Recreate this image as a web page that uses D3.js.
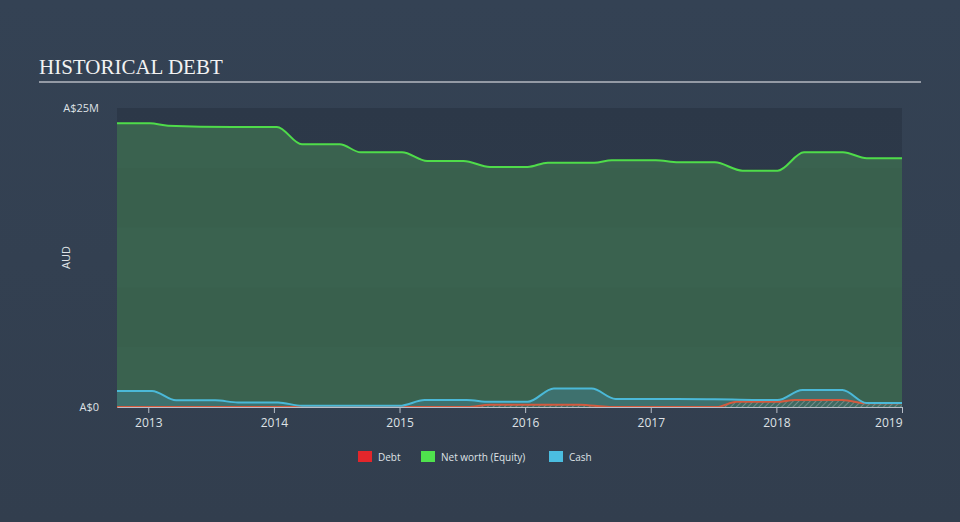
<!DOCTYPE html>
<html>
<head>
<meta charset="utf-8">
<script src="https://cdn.jsdelivr.net/npm/d3@7"></script>
<style>
  html, body { margin: 0; padding: 0; background: #333f50; }
  svg { display: block; }
</style>
</head>
<body>
<svg id="chart" width="960" height="522"></svg>
<script>
// ---- Data (decimal years, values in A$ millions) ----
const netWorthYears = [2012.751, 2013.014, 2013.157, 2013.674, 2014.024, 2014.223, 2014.525, 2014.69, 2015.02, 2015.22, 2015.51, 2015.72, 2016.02, 2016.18, 2016.55, 2016.69, 2017.04, 2017.22, 2017.51, 2017.73, 2018.01, 2018.22, 2018.53, 2018.72, 2019.0];
const netWorthValues = [23.72, 23.72, 23.52, 23.42, 23.42, 21.97, 21.97, 21.3, 21.3, 20.57, 20.57, 20.07, 20.07, 20.43, 20.43, 20.63, 20.63, 20.46, 20.46, 19.76, 19.76, 21.3, 21.3, 20.8, 20.8];

const cashYears = [2012.751, 2013.03, 2013.221, 2013.532, 2013.714, 2014.033, 2014.223, 2015.0, 2015.2, 2015.535, 2015.718, 2016.02, 2016.228, 2016.53, 2016.72, 2017.03, 2017.51, 2018.009, 2018.207, 2018.526, 2018.717, 2019.0];
const cashValues = [1.34, 1.34, 0.56, 0.56, 0.38, 0.38, 0.1, 0.1, 0.58, 0.58, 0.43, 0.43, 1.55, 1.55, 0.67, 0.67, 0.64, 0.58, 1.42, 1.42, 0.33, 0.33];

const debtYears = [2012.751, 2015.54, 2015.718, 2016.435, 2016.673, 2017.524, 2017.683, 2018.009, 2018.144, 2018.526, 2018.717, 2019.0];
const debtValues = [0, 0, 0.19, 0.19, 0, 0, 0.44, 0.44, 0.58, 0.58, 0.31, 0.31];

const xTickYears = [2013, 2014, 2015, 2016, 2017, 2018, 2019];
const yTickValues = [0, 25];
const yTickLabels = ["A$0", "A$25M"];

const legendNames = ["Debt", "Net worth (Equity)", "Cash"];
const legendColors = ["#e3262b", "#4fe24d", "#4bbde0"];

// ---- Layout ----
const svg = d3.select("#chart");
const W = 960, H = 522;
const plot = { left: 117, right: 902, top: 108, bottom: 407 };

const x = d3.scaleLinear().domain([2012.751, 2019.0]).range([plot.left, plot.right]);
const y = d3.scaleLinear().domain([0, 25]).range([plot.bottom, plot.top]);

// background gradient
const defs = svg.append("defs");
const bg = defs.append("linearGradient").attr("id", "bg").attr("x1", 0).attr("y1", 0).attr("x2", 0).attr("y2", 1);
bg.append("stop").attr("offset", "0%").attr("stop-color", "#344254");
bg.append("stop").attr("offset", "100%").attr("stop-color", "#323e4e");
svg.append("rect").attr("width", W).attr("height", H).attr("fill", "url(#bg)");

const pbg = defs.append("linearGradient").attr("id", "pbg").attr("x1", 0).attr("y1", 0).attr("x2", 0).attr("y2", 1);
pbg.append("stop").attr("offset", "0%").attr("stop-color", "#2c3848");
pbg.append("stop").attr("offset", "100%").attr("stop-color", "#2f3b4c");
svg.append("rect")
  .attr("x", plot.left).attr("y", plot.top)
  .attr("width", plot.right - plot.left).attr("height", plot.bottom - plot.top)
  .attr("fill", "url(#pbg)");

// hatch pattern for debt
const pat = defs.append("pattern").attr("id", "hatch")
  .attr("patternUnits", "userSpaceOnUse").attr("width", 4).attr("height", 4)
  .attr("patternTransform", "rotate(45)");
pat.append("rect").attr("width", 4).attr("height", 4).attr("fill", "#3f6a62");
pat.append("line").attr("x1", 0).attr("y1", 0).attr("x2", 0).attr("y2", 4)
  .attr("stroke", "#8a9a98").attr("stroke-width", 1.4);

// Title
svg.append("text")
  .attr("x", 39).attr("y", 74)
  .attr("font-family", "'Liberation Serif', 'DejaVu Serif', serif")
  .attr("font-size", 21)
  .attr("fill", "#f2f2f2")
  .text("HISTORICAL DEBT");
svg.append("line")
  .attr("x1", 39).attr("x2", 921).attr("y1", 82).attr("y2", 82)
  .attr("stroke", "#b4b9c0").attr("stroke-width", 1.5);

// Series helpers
const curve = d3.curveMonotoneX;
function series(years, vals) { return years.map((yr, i) => ({ x: yr, v: vals[i] })); }
const nw = series(netWorthYears, netWorthValues);
const cash = series(cashYears, cashValues);
const debt = series(debtYears, debtValues);

const area = d3.area().x(d => x(d.x)).y0(y(0)).y1(d => y(d.v)).curve(curve);
const line = d3.line().x(d => x(d.x)).y(d => y(d.v)).curve(curve);

// Net worth
svg.append("path").datum(nw).attr("d", area).attr("fill", "#3a624f");
// faint horizontal bands in plot
const bandG = svg.append("g");
[0, 1, 2, 3, 4].forEach(i => {
  const top = y(25 * (i + 1) / 5), bot = y(25 * i / 5);
  if (i % 2 === 1) {
    bandG.append("rect").attr("x", plot.left).attr("width", plot.right - plot.left)
      .attr("y", top).attr("height", bot - top).attr("fill", "#000").attr("opacity", 0.015);
  }
});

// Cash
svg.append("path").datum(cash).attr("d", area).attr("fill", "#3e7270").attr("opacity", 0.95);
// Debt
svg.append("path").datum(debt).attr("d", area).attr("fill", "url(#hatch)");

svg.append("path").datum(debt).attr("d", line).attr("fill", "none")
  .attr("stroke", "#d35a3e").attr("stroke-width", 2);
svg.append("path").datum(cash).attr("d", line).attr("fill", "none")
  .attr("stroke", "#4bb9d8").attr("stroke-width", 2);
svg.append("path").datum(nw).attr("d", line).attr("fill", "none")
  .attr("stroke", "#4fdc4a").attr("stroke-width", 2);

// X axis
const xAxis = d3.axisBottom(x).tickValues(xTickYears).tickFormat(d3.format("d")).tickSize(6).tickSizeOuter(0);
const gx = svg.append("g").attr("transform", `translate(0,${plot.bottom})`).call(xAxis);
gx.select(".domain").attr("stroke", "#b8bec7").attr("stroke-width", 1.2);
gx.selectAll(".tick line").attr("stroke", "#b8bec7");
gx.selectAll(".tick text")
  .attr("fill", "#dfe2e6").attr("font-size", 12)
  .attr("font-family", "'Open Sans', 'DejaVu Sans', sans-serif")
  .attr("dy", "0.95em")
  .attr("text-anchor", (d, i) => i === xTickYears.length - 1 ? "end" : "middle");

// Y labels
const yAxis = d3.axisLeft(y).tickValues(yTickValues).tickFormat((d, i) => yTickLabels[i]).tickSize(0);
const gy = svg.append("g").attr("transform", `translate(${plot.left - 15},0)`).call(yAxis);
gy.select(".domain").remove();
gy.selectAll(".tick text")
  .attr("fill", "#dfe2e6").attr("font-size", 11)
  .attr("font-family", "'Open Sans', 'DejaVu Sans', sans-serif")
  .attr("dy", "0.3em");

svg.append("text")
  .attr("transform", `translate(70,${(plot.top + plot.bottom) / 2}) rotate(-90)`)
  .attr("text-anchor", "middle")
  .attr("fill", "#dfe2e6").attr("font-size", 11)
  .attr("font-family", "'Open Sans', 'DejaVu Sans', sans-serif")
  .text("AUD");

// Legend
const legendX = [358, 421, 549];
const lg = svg.append("g").attr("font-family", "'Open Sans', 'DejaVu Sans', sans-serif").attr("font-size", 10);
legendNames.forEach((n, i) => {
  lg.append("rect").attr("x", legendX[i]).attr("y", 451).attr("width", 14).attr("height", 11).attr("fill", legendColors[i]);
  lg.append("text").attr("x", legendX[i] + 20).attr("y", 460.5).attr("fill", "#dfe2e6").text(n);
});
</script>
</body>
</html>
